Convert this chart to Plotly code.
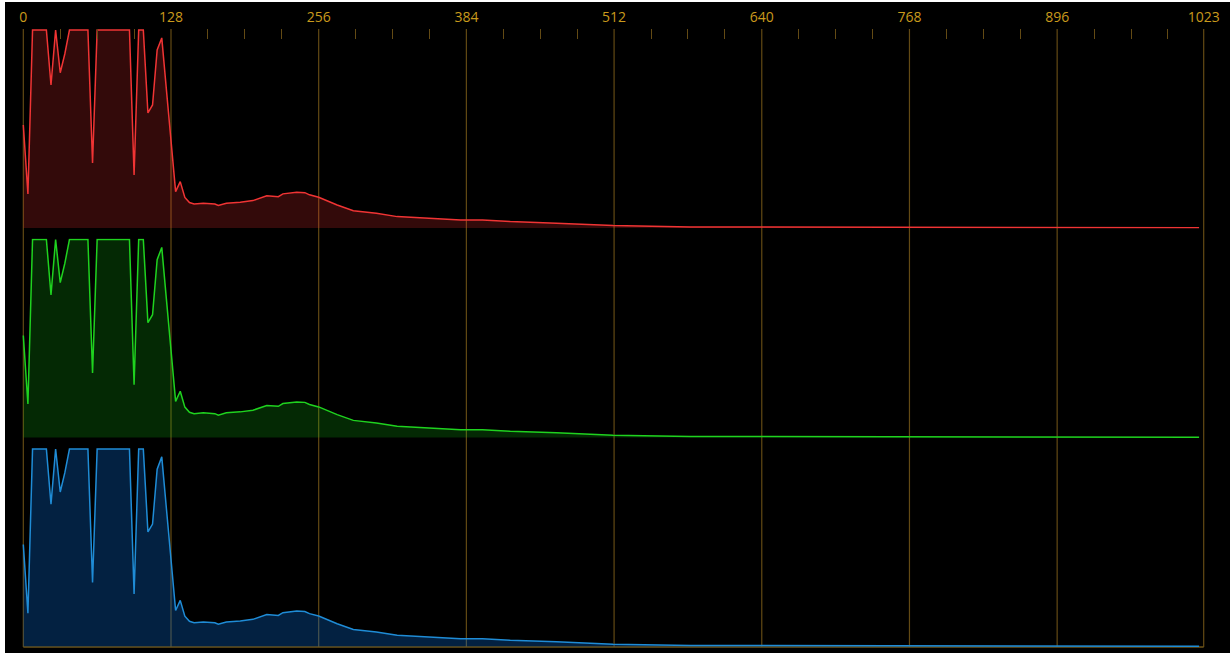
import plotly.graph_objects as go

# ---- data (histogram vertices: bin index, level in % of panel height, 100 = clipped) ----
bins = [0, 4, 8, 20, 24, 28, 32, 36, 40, 56, 60, 64, 92, 96, 100, 104, 108, 112, 116, 120,
        124, 128, 132, 136, 140, 144, 148, 156, 166, 169, 176, 188, 199, 211, 221, 225,
        237, 244, 248, 256, 272, 286, 306, 324, 347, 379, 398, 422, 462, 511, 578, 855,
        888, 1019]
red = [52.0, 17.2, 100, 100, 72.2, 100, 78.4, 88, 100, 100, 32.8, 100, 100, 26.8, 100, 100,
       58.1, 62.1, 89.9, 96.0, 70, 44, 18.3, 23.4, 15.4, 12.8, 12.1, 12.5, 12.1, 11.3, 12.5,
       13.0, 13.8, 16.2, 15.8, 17.2, 18.0, 17.8, 16.7, 15.5, 11.6, 8.7, 7.4, 5.7, 4.9, 4.0,
       4.0, 3.2, 2.4, 1.2, 0.5, 0.35, 0.1, 0.1]
green = [51.5, 16.9, 100, 100, 72.0, 100, 78.2, 88, 100, 100, 32.6, 100, 100, 26.6, 100, 100,
         58.0, 62.0, 89.8, 96.0, 70, 44, 18.2, 23.3, 15.3, 12.7, 12.0, 12.4, 12.0, 11.2, 12.4,
         12.9, 13.7, 16.1, 15.7, 17.1, 17.9, 17.7, 16.6, 15.4, 11.5, 8.6, 7.3, 5.6, 4.8, 3.9,
         3.9, 3.1, 2.3, 1.1, 0.5, 0.3, 0.1, 0.1]
blue = [51.6, 16.8, 100, 100, 72.0, 100, 78.2, 88, 100, 100, 32.4, 100, 100, 26.6, 100, 100,
        58.0, 62.0, 89.8, 96.0, 70, 44, 18.2, 23.3, 15.3, 12.7, 12.0, 12.4, 12.0, 11.2, 12.4,
        12.9, 13.7, 16.1, 15.7, 17.1, 17.9, 17.7, 16.6, 15.4, 11.5, 8.6, 7.3, 5.6, 4.8, 3.9,
        3.9, 3.1, 2.3, 1.1, 0.5, 0.3, 0.1, 0.1]

major_ticks = [0, 128, 256, 384, 512, 640, 768, 896, 1023]
major_labels = ["0", "128", "256", "384", "512", "640", "768", "896", "1023"]
minor_ticks = [v for v in range(32, 1023, 32) if v % 128 != 0]

# ---- style ----
W, H = 1230, 655
ML, MR, MT, MB = 21, 24, 29, 8
GOLD_TEXT = "#c99a1c"
GOLD_GRID = "#634a14"
GOLD_AXIS = "#6e5418"

series = [
    ("R", red, "#f03434", "rgba(255,50,50,0.20)", "y"),
    ("G", green, "#1fd21f", "rgba(20,220,20,0.19)", "y2"),
    ("B", blue, "#1f8cd6", "rgba(10,110,215,0.30)", "y3"),
]

fig = go.Figure()
for name, vals, lc, fc, ya in series:
    xa = {"y": "x", "y2": "x2", "y3": "x3"}[ya]
    fig.add_trace(go.Scatter(x=bins, y=vals, mode="lines", name=name,
                             line=dict(color=lc, width=1.5), fill="tozeroy",
                             fillcolor=fc, xaxis=xa, yaxis=ya, hoverinfo="skip"))

pw = W - ML - MR
ph = H - MT - MB
def px_x(p):
    return (p - ML) / pw
def px_y(p):
    return (H - MB - p) / ph

shapes = [dict(type="rect", xref="paper", yref="paper",
               x0=px_x(5), x1=px_x(W + 2), y0=px_y(H - 2), y1=px_y(2),
               fillcolor="black", line=dict(width=0), layer="below")]
for t in major_ticks:
    shapes.append(dict(type="line", xref="x", yref="paper", x0=t, x1=t, y0=0, y1=1,
                       line=dict(color=GOLD_GRID, width=1.2), layer="below"))
shapes.append(dict(type="line", xref="x", yref="paper", x0=major_ticks[0], x1=major_ticks[-1],
                   y0=0, y1=0, line=dict(color=GOLD_AXIS, width=1.5), layer="below"))

yr = [-0.3, 100.5]
fig.update_layout(
    width=W, height=H,
    margin=dict(l=ML, r=MR, t=MT, b=MB),
    paper_bgcolor="white", plot_bgcolor="rgba(0,0,0,0)",
    showlegend=False,
    shapes=shapes,
    xaxis=dict(domain=[0, 1], range=[-2, 1025], anchor="y", side="top",
               tickmode="array", tickvals=major_ticks, ticktext=major_labels,
               ticks="", showgrid=False, zeroline=False, showline=False,
               tickfont=dict(family="Open Sans", size=14, color=GOLD_TEXT),
               ticklabelstandoff=3,
               minor=dict(tickmode="array", tickvals=minor_ticks, ticks="inside",
                          ticklen=10, tickwidth=1.2, tickcolor=GOLD_GRID, showgrid=False)),
    xaxis2=dict(matches="x", anchor="y2", visible=False, range=[-2, 1025]),
    xaxis3=dict(matches="x", anchor="y3", visible=False, range=[-2, 1025]),
    yaxis=dict(domain=[0.6772, 1.0], range=yr, visible=False),
    yaxis2=dict(domain=[0.3382, 0.6610], range=yr, visible=False),
    yaxis3=dict(domain=[0.0, 0.3220], range=yr, visible=False),
)

fig.write_html("out.html", config={"displayModeBar": False},
               post_script="document.body.style.margin='0';document.body.style.overflow='hidden';")
